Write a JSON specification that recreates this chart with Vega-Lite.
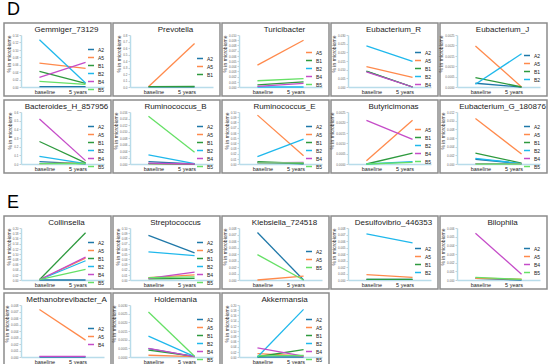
{
"$schema": "https://vega.github.io/schema/vega-lite/v6.json",
"padding": {"left": 3, "top": 1, "right": 0, "bottom": 0},
"background": "white",
"data": {"values": [
{"panel":"Gemmiger_73129","group":"A2","time":"baseline","value":0.001},{"panel":"Gemmiger_73129","group":"A2","time":"5 years","value":0.001},
{"panel":"Gemmiger_73129","group":"A5","time":"baseline","value":0.064},{"panel":"Gemmiger_73129","group":"A5","time":"5 years","value":0.05},
{"panel":"Gemmiger_73129","group":"B1","time":"baseline","value":0.042},{"panel":"Gemmiger_73129","group":"B1","time":"5 years","value":0.01},
{"panel":"Gemmiger_73129","group":"B2","time":"baseline","value":0.127},{"panel":"Gemmiger_73129","group":"B2","time":"5 years","value":0.011},
{"panel":"Gemmiger_73129","group":"B4","time":"baseline","value":0.026},{"panel":"Gemmiger_73129","group":"B4","time":"5 years","value":0.066},
{"panel":"Gemmiger_73129","group":"B5","time":"baseline","value":0.015},{"panel":"Gemmiger_73129","group":"B5","time":"5 years","value":0.007},
{"panel":"Prevotella","group":"A2","time":"baseline","value":0.002},{"panel":"Prevotella","group":"A2","time":"5 years","value":0.002},
{"panel":"Prevotella","group":"A5","time":"baseline","value":0.005},{"panel":"Prevotella","group":"A5","time":"5 years","value":0.67},
{"panel":"Prevotella","group":"B1","time":"baseline","value":0.006},{"panel":"Prevotella","group":"B1","time":"5 years","value":0.008},
{"panel":"Turicibacter","group":"A5","time":"baseline","value":0.0042},{"panel":"Turicibacter","group":"A5","time":"5 years","value":0.009},
{"panel":"Turicibacter","group":"B1","time":"baseline","value":0.0004},{"panel":"Turicibacter","group":"B1","time":"5 years","value":0.001},
{"panel":"Turicibacter","group":"B2","time":"baseline","value":0.0},{"panel":"Turicibacter","group":"B2","time":"5 years","value":0.0},
{"panel":"Turicibacter","group":"B4","time":"baseline","value":0.00013},{"panel":"Turicibacter","group":"B4","time":"5 years","value":0.0007},
{"panel":"Turicibacter","group":"B5","time":"baseline","value":0.0012},{"panel":"Turicibacter","group":"B5","time":"5 years","value":0.0016},
{"panel":"Eubacterium_R","group":"A2","time":"baseline","value":0.009},{"panel":"Eubacterium_R","group":"A2","time":"5 years","value":0.0},
{"panel":"Eubacterium_R","group":"A5","time":"baseline","value":0.0117},{"panel":"Eubacterium_R","group":"A5","time":"5 years","value":0.0056},
{"panel":"Eubacterium_R","group":"B1","time":"baseline","value":0.0091},{"panel":"Eubacterium_R","group":"B1","time":"5 years","value":0.0},
{"panel":"Eubacterium_R","group":"B2","time":"baseline","value":0.0237},{"panel":"Eubacterium_R","group":"B2","time":"5 years","value":0.0148},
{"panel":"Eubacterium_R","group":"B4","time":"baseline","value":0.0087},{"panel":"Eubacterium_R","group":"B4","time":"5 years","value":0.0},
{"panel":"Eubacterium_J","group":"A2","time":"baseline","value":0.00018},{"panel":"Eubacterium_J","group":"A2","time":"5 years","value":0.0},
{"panel":"Eubacterium_J","group":"A5","time":"baseline","value":0.00197},{"panel":"Eubacterium_J","group":"A5","time":"5 years","value":0.0},
{"panel":"Eubacterium_J","group":"B1","time":"baseline","value":0.00045},{"panel":"Eubacterium_J","group":"B1","time":"5 years","value":0.0},
{"panel":"Eubacterium_J","group":"B2","time":"baseline","value":0.00013},{"panel":"Eubacterium_J","group":"B2","time":"5 years","value":0.0016},
{"panel":"Bacteroides_H_857956","group":"A2","time":"baseline","value":0.027},{"panel":"Bacteroides_H_857956","group":"A2","time":"5 years","value":0.002},
{"panel":"Bacteroides_H_857956","group":"A5","time":"baseline","value":0.005},{"panel":"Bacteroides_H_857956","group":"A5","time":"5 years","value":0.012},
{"panel":"Bacteroides_H_857956","group":"B1","time":"baseline","value":0.26},{"panel":"Bacteroides_H_857956","group":"B1","time":"5 years","value":0.012},
{"panel":"Bacteroides_H_857956","group":"B2","time":"baseline","value":0.089},{"panel":"Bacteroides_H_857956","group":"B2","time":"5 years","value":0.005},
{"panel":"Bacteroides_H_857956","group":"B4","time":"baseline","value":0.52},{"panel":"Bacteroides_H_857956","group":"B4","time":"5 years","value":0.039},
{"panel":"Bacteroides_H_857956","group":"B5","time":"baseline","value":0.004},{"panel":"Bacteroides_H_857956","group":"B5","time":"5 years","value":0.006},
{"panel":"Ruminococcus_B","group":"A2","time":"baseline","value":0.0007},{"panel":"Ruminococcus_B","group":"A2","time":"5 years","value":0.0},
{"panel":"Ruminococcus_B","group":"A5","time":"baseline","value":0.0001},{"panel":"Ruminococcus_B","group":"A5","time":"5 years","value":0.0},
{"panel":"Ruminococcus_B","group":"B1","time":"baseline","value":0.0001},{"panel":"Ruminococcus_B","group":"B1","time":"5 years","value":0.0},
{"panel":"Ruminococcus_B","group":"B2","time":"baseline","value":0.0028},{"panel":"Ruminococcus_B","group":"B2","time":"5 years","value":0.0001},
{"panel":"Ruminococcus_B","group":"B4","time":"baseline","value":0.0003},{"panel":"Ruminococcus_B","group":"B4","time":"5 years","value":0.0},
{"panel":"Ruminococcus_B","group":"B5","time":"baseline","value":0.0147},{"panel":"Ruminococcus_B","group":"B5","time":"5 years","value":0.0036},
{"panel":"Ruminococcus_E","group":"A2","time":"baseline","value":0.003},{"panel":"Ruminococcus_E","group":"A2","time":"5 years","value":0.0005},
{"panel":"Ruminococcus_E","group":"A5","time":"baseline","value":0.094},{"panel":"Ruminococcus_E","group":"A5","time":"5 years","value":0.016},
{"panel":"Ruminococcus_E","group":"B1","time":"baseline","value":0.0045},{"panel":"Ruminococcus_E","group":"B1","time":"5 years","value":0.001},
{"panel":"Ruminococcus_E","group":"B2","time":"baseline","value":0.014},{"panel":"Ruminococcus_E","group":"B2","time":"5 years","value":0.048},
{"panel":"Ruminococcus_E","group":"B4","time":"baseline","value":0.002},{"panel":"Ruminococcus_E","group":"B4","time":"5 years","value":0.003},
{"panel":"Ruminococcus_E","group":"B5","time":"baseline","value":0.002},{"panel":"Ruminococcus_E","group":"B5","time":"5 years","value":0.002},
{"panel":"Butyricimonas","group":"A5","time":"baseline","value":0.00016},{"panel":"Butyricimonas","group":"A5","time":"5 years","value":0.0021},
{"panel":"Butyricimonas","group":"B1","time":"baseline","value":0.0},{"panel":"Butyricimonas","group":"B1","time":"5 years","value":0.00052},
{"panel":"Butyricimonas","group":"B2","time":"baseline","value":0.0},{"panel":"Butyricimonas","group":"B2","time":"5 years","value":0.00011},
{"panel":"Butyricimonas","group":"B4","time":"baseline","value":0.0021},{"panel":"Butyricimonas","group":"B4","time":"5 years","value":0.00118},
{"panel":"Butyricimonas","group":"B5","time":"baseline","value":0.0},{"panel":"Butyricimonas","group":"B5","time":"5 years","value":0.00008},
{"panel":"Eubacterium_G_180876","group":"A2","time":"baseline","value":0.0011},{"panel":"Eubacterium_G_180876","group":"A2","time":"5 years","value":0.0001},
{"panel":"Eubacterium_G_180876","group":"A5","time":"baseline","value":0.0105},{"panel":"Eubacterium_G_180876","group":"A5","time":"5 years","value":0.0023},
{"panel":"Eubacterium_G_180876","group":"B1","time":"baseline","value":0.0025},{"panel":"Eubacterium_G_180876","group":"B1","time":"5 years","value":0.0002},
{"panel":"Eubacterium_G_180876","group":"B2","time":"baseline","value":0.0013},{"panel":"Eubacterium_G_180876","group":"B2","time":"5 years","value":0.0001},
{"panel":"Eubacterium_G_180876","group":"B4","time":"baseline","value":0.0001},{"panel":"Eubacterium_G_180876","group":"B4","time":"5 years","value":0.0001},
{"panel":"Eubacterium_G_180876","group":"B5","time":"baseline","value":0.0},{"panel":"Eubacterium_G_180876","group":"B5","time":"5 years","value":0.0},
{"panel":"Collinsella","group":"A2","time":"baseline","value":0.0},{"panel":"Collinsella","group":"A2","time":"5 years","value":0.0},
{"panel":"Collinsella","group":"A5","time":"baseline","value":0.001},{"panel":"Collinsella","group":"A5","time":"5 years","value":0.084},
{"panel":"Collinsella","group":"B1","time":"baseline","value":0.001},{"panel":"Collinsella","group":"B1","time":"5 years","value":0.182},
{"panel":"Collinsella","group":"B2","time":"baseline","value":0.001},{"panel":"Collinsella","group":"B2","time":"5 years","value":0.074},
{"panel":"Collinsella","group":"B4","time":"baseline","value":0.001},{"panel":"Collinsella","group":"B4","time":"5 years","value":0.088},
{"panel":"Collinsella","group":"B5","time":"baseline","value":0.001},{"panel":"Collinsella","group":"B5","time":"5 years","value":0.041},
{"panel":"Streptococcus","group":"A2","time":"baseline","value":0.086},{"panel":"Streptococcus","group":"A2","time":"5 years","value":0.052},
{"panel":"Streptococcus","group":"A5","time":"baseline","value":0.0045},{"panel":"Streptococcus","group":"A5","time":"5 years","value":0.0097},
{"panel":"Streptococcus","group":"B1","time":"baseline","value":0.002},{"panel":"Streptococcus","group":"B1","time":"5 years","value":0.003},
{"panel":"Streptococcus","group":"B2","time":"baseline","value":0.054},{"panel":"Streptococcus","group":"B2","time":"5 years","value":0.047},
{"panel":"Streptococcus","group":"B4","time":"baseline","value":0.003},{"panel":"Streptococcus","group":"B4","time":"5 years","value":0.015},
{"panel":"Streptococcus","group":"B5","time":"baseline","value":0.0045},{"panel":"Streptococcus","group":"B5","time":"5 years","value":0.006},
{"panel":"Klebsiella_724518","group":"A2","time":"baseline","value":0.0073},{"panel":"Klebsiella_724518","group":"A2","time":"5 years","value":0.0},
{"panel":"Klebsiella_724518","group":"A5","time":"baseline","value":0.0},{"panel":"Klebsiella_724518","group":"A5","time":"5 years","value":0.0006},
{"panel":"Klebsiella_724518","group":"B5","time":"baseline","value":0.0039},{"panel":"Klebsiella_724518","group":"B5","time":"5 years","value":0.0},
{"panel":"Desulfovibrio_446353","group":"A2","time":"baseline","value":0.0001},{"panel":"Desulfovibrio_446353","group":"A2","time":"5 years","value":0.0001},
{"panel":"Desulfovibrio_446353","group":"A5","time":"baseline","value":0.00083},{"panel":"Desulfovibrio_446353","group":"A5","time":"5 years","value":0.0004},
{"panel":"Desulfovibrio_446353","group":"B1","time":"baseline","value":0.0001},{"panel":"Desulfovibrio_446353","group":"B1","time":"5 years","value":0.0001},
{"panel":"Desulfovibrio_446353","group":"B2","time":"baseline","value":0.0071},{"panel":"Desulfovibrio_446353","group":"B2","time":"5 years","value":0.0057},
{"panel":"Bilophila","group":"A2","time":"baseline","value":0.0002},{"panel":"Bilophila","group":"A2","time":"5 years","value":0.0},
{"panel":"Bilophila","group":"A5","time":"baseline","value":0.0002},{"panel":"Bilophila","group":"A5","time":"5 years","value":0.0001},
{"panel":"Bilophila","group":"B4","time":"baseline","value":0.0054},{"panel":"Bilophila","group":"B4","time":"5 years","value":0.00066},
{"panel":"Bilophila","group":"B5","time":"baseline","value":0.0003},{"panel":"Bilophila","group":"B5","time":"5 years","value":0.00008},
{"panel":"Methanobrevibacter_A","group":"A2","time":"baseline","value":0.0},{"panel":"Methanobrevibacter_A","group":"A2","time":"5 years","value":0.0},
{"panel":"Methanobrevibacter_A","group":"A5","time":"baseline","value":0.0073},{"panel":"Methanobrevibacter_A","group":"A5","time":"5 years","value":0.0026},
{"panel":"Methanobrevibacter_A","group":"B4","time":"baseline","value":0.0001},{"panel":"Methanobrevibacter_A","group":"B4","time":"5 years","value":0.0001},
{"panel":"Holdemania","group":"A2","time":"baseline","value":0.00048},{"panel":"Holdemania","group":"A2","time":"5 years","value":0.00002},
{"panel":"Holdemania","group":"A5","time":"baseline","value":0.0001},{"panel":"Holdemania","group":"A5","time":"5 years","value":0.00002},
{"panel":"Holdemania","group":"B1","time":"baseline","value":0.0004},{"panel":"Holdemania","group":"B1","time":"5 years","value":0.00003},
{"panel":"Holdemania","group":"B2","time":"baseline","value":0.0012},{"panel":"Holdemania","group":"B2","time":"5 years","value":0.00002},
{"panel":"Holdemania","group":"B4","time":"baseline","value":0.0005},{"panel":"Holdemania","group":"B4","time":"5 years","value":0.00002},
{"panel":"Holdemania","group":"B5","time":"baseline","value":0.0026},{"panel":"Holdemania","group":"B5","time":"5 years","value":0.00004},
{"panel":"Akkermansia","group":"A2","time":"baseline","value":0.0},{"panel":"Akkermansia","group":"A2","time":"5 years","value":0.0},
{"panel":"Akkermansia","group":"A5","time":"baseline","value":0.013},{"panel":"Akkermansia","group":"A5","time":"5 years","value":0.004},
{"panel":"Akkermansia","group":"B1","time":"baseline","value":0.001},{"panel":"Akkermansia","group":"B1","time":"5 years","value":0.028},
{"panel":"Akkermansia","group":"B2","time":"baseline","value":0.0},{"panel":"Akkermansia","group":"B2","time":"5 years","value":0.183},
{"panel":"Akkermansia","group":"B4","time":"baseline","value":0.035},{"panel":"Akkermansia","group":"B4","time":"5 years","value":0.003},
{"panel":"Akkermansia","group":"B5","time":"baseline","value":0.004},{"panel":"Akkermansia","group":"B5","time":"5 years","value":0.006}
]},
"resolve": {"scale": {"x": "independent", "y": "independent", "color": "independent"}, "legend": {"color": "independent"}, "axis": {"x": "independent", "y": "independent"}},
"spacing": 20,
"vconcat": [
{"title": {"text": "D", "anchor": "start", "fontSize": 18, "fontWeight": "normal", "offset": 3, "baseline": "top", "dx": 3, "color": "#000", "align": "left"},
 "resolve": {"scale": {"x": "independent", "y": "independent", "color": "independent"}, "legend": {"color": "independent"}},
 "spacing": 2,
 "vconcat": [
 {"spacing": 2, "bounds": "flush", "resolve": {"scale": {"x": "independent", "y": "independent", "color": "independent"}, "legend": {"color": "independent"}},
  "hconcat": [
  {"title": {"text": "Gemmiger_73129"}, "width": 107, "height": 73, "transform": [{"filter": "datum.panel == 'Gemmiger_73129'"}], "mark": {"type": "line", "strokeWidth": 1.3},
   "encoding": {"x": {"field": "time", "type": "ordinal", "sort": ["baseline", "5 years"], "scale": {"range": [17, 100], "padding": 0.4}, "axis": {"title": null, "labelOffset": {"condition": {"test": "datum.value === 'baseline'", "value": 5}, "value": -8}}},
    "y": {"field": "value", "type": "quantitative", "scale": {"domain": [0, 0.14], "range": [64, 12]}, "axis": {"title": "% in microbiome", "tickCount": 8}},
    "color": {"field": "group", "type": "nominal", "scale": {"domain": ["A2","A5","B1","B2","B4","B5"], "range": ["#1f78a8","#ff8a4c","#2e9a3e","#1fb8ec","#c54cc8","#66e066"]}, "legend": {"title": null, "legendY": 22.5}}}},
  {"title": {"text": "Prevotella"}, "width": 107, "height": 73, "transform": [{"filter": "datum.panel == 'Prevotella'"}], "mark": {"type": "line", "strokeWidth": 1.3},
   "encoding": {"x": {"field": "time", "type": "ordinal", "sort": ["baseline", "5 years"], "scale": {"range": [17, 100], "padding": 0.4}, "axis": {"title": null, "labelOffset": {"condition": {"test": "datum.value === 'baseline'", "value": 5}, "value": -8}}},
    "y": {"field": "value", "type": "quantitative", "scale": {"domain": [0, 0.8], "range": [64, 12]}, "axis": {"title": "% in microbiome", "tickCount": 9}},
    "color": {"field": "group", "type": "nominal", "scale": {"domain": ["A2","A5","B1"], "range": ["#1f78a8","#ff8a4c","#2e9a3e"]}, "legend": {"title": null, "legendY": 31.5}}}},
  {"title": {"text": "Turicibacter"}, "width": 107, "height": 73, "transform": [{"filter": "datum.panel == 'Turicibacter'"}], "mark": {"type": "line", "strokeWidth": 1.3},
   "encoding": {"x": {"field": "time", "type": "ordinal", "sort": ["baseline", "5 years"], "scale": {"range": [17, 100], "padding": 0.4}, "axis": {"title": null, "labelOffset": {"condition": {"test": "datum.value === 'baseline'", "value": 5}, "value": -8}}},
    "y": {"field": "value", "type": "quantitative", "scale": {"domain": [0, 0.01], "range": [64, 12]}, "axis": {"title": "% in microbiome", "tickCount": 11}},
    "color": {"field": "group", "type": "nominal", "scale": {"domain": ["A5","B1","B2","B4","B5"], "range": ["#ff8a4c","#2e9a3e","#1fb8ec","#c54cc8","#66e066"]}, "legend": {"title": null, "legendY": 25.5}}}},
  {"title": {"text": "Eubacterium_R"}, "width": 107, "height": 73, "transform": [{"filter": "datum.panel == 'Eubacterium_R'"}], "mark": {"type": "line", "strokeWidth": 1.3},
   "encoding": {"x": {"field": "time", "type": "ordinal", "sort": ["baseline", "5 years"], "scale": {"range": [17, 100], "padding": 0.4}, "axis": {"title": null, "labelOffset": {"condition": {"test": "datum.value === 'baseline'", "value": 5}, "value": -8}}},
    "y": {"field": "value", "type": "quantitative", "scale": {"domain": [0, 0.03], "range": [64, 12]}, "axis": {"title": "% in microbiome", "tickCount": 7}},
    "color": {"field": "group", "type": "nominal", "scale": {"domain": ["A2","A5","B1","B2","B4"], "range": ["#1f78a8","#ff8a4c","#2e9a3e","#1fb8ec","#c54cc8"]}, "legend": {"title": null, "legendY": 25.5}}}},
  {"title": {"text": "Eubacterium_J"}, "width": 107, "height": 73, "transform": [{"filter": "datum.panel == 'Eubacterium_J'"}], "mark": {"type": "line", "strokeWidth": 1.3},
   "encoding": {"x": {"field": "time", "type": "ordinal", "sort": ["baseline", "5 years"], "scale": {"range": [17, 100], "padding": 0.4}, "axis": {"title": null, "labelOffset": {"condition": {"test": "datum.value === 'baseline'", "value": 5}, "value": -8}}},
    "y": {"field": "value", "type": "quantitative", "scale": {"domain": [0, 0.0025], "range": [64, 12]}, "axis": {"title": "% in microbiome", "tickCount": 6}},
    "color": {"field": "group", "type": "nominal", "scale": {"domain": ["A2","A5","B1","B2"], "range": ["#1f78a8","#ff8a4c","#2e9a3e","#1fb8ec"]}, "legend": {"title": null, "legendY": 28.5}}}}
  ]},
 {"spacing": 2, "bounds": "flush", "resolve": {"scale": {"x": "independent", "y": "independent", "color": "independent"}, "legend": {"color": "independent"}},
  "hconcat": [
  {"title": {"text": "Bacteroides_H_857956"}, "width": 107, "height": 73, "transform": [{"filter": "datum.panel == 'Bacteroides_H_857956'"}], "mark": {"type": "line", "strokeWidth": 1.3},
   "encoding": {"x": {"field": "time", "type": "ordinal", "sort": ["baseline", "5 years"], "scale": {"range": [17, 100], "padding": 0.4}, "axis": {"title": null, "labelOffset": {"condition": {"test": "datum.value === 'baseline'", "value": 5}, "value": -8}}},
    "y": {"field": "value", "type": "quantitative", "scale": {"domain": [0, 0.6], "range": [64, 12]}, "axis": {"title": "% in microbiome", "tickCount": 7}},
    "color": {"field": "group", "type": "nominal", "scale": {"domain": ["A2","A5","B1","B2","B4","B5"], "range": ["#1f78a8","#ff8a4c","#2e9a3e","#1fb8ec","#c54cc8","#66e066"]}, "legend": {"title": null, "legendY": 22.5}}}},
  {"title": {"text": "Ruminococcus_B"}, "width": 107, "height": 73, "transform": [{"filter": "datum.panel == 'Ruminococcus_B'"}], "mark": {"type": "line", "strokeWidth": 1.3},
   "encoding": {"x": {"field": "time", "type": "ordinal", "sort": ["baseline", "5 years"], "scale": {"range": [17, 100], "padding": 0.4}, "axis": {"title": null, "labelOffset": {"condition": {"test": "datum.value === 'baseline'", "value": 5}, "value": -8}}},
    "y": {"field": "value", "type": "quantitative", "scale": {"domain": [0, 0.016], "range": [64, 12]}, "axis": {"title": "% in microbiome", "tickCount": 9}},
    "color": {"field": "group", "type": "nominal", "scale": {"domain": ["A2","A5","B1","B2","B4","B5"], "range": ["#1f78a8","#ff8a4c","#2e9a3e","#1fb8ec","#c54cc8","#66e066"]}, "legend": {"title": null, "legendY": 22.5}}}},
  {"title": {"text": "Ruminococcus_E"}, "width": 107, "height": 73, "transform": [{"filter": "datum.panel == 'Ruminococcus_E'"}], "mark": {"type": "line", "strokeWidth": 1.3},
   "encoding": {"x": {"field": "time", "type": "ordinal", "sort": ["baseline", "5 years"], "scale": {"range": [17, 100], "padding": 0.4}, "axis": {"title": null, "labelOffset": {"condition": {"test": "datum.value === 'baseline'", "value": 5}, "value": -8}}},
    "y": {"field": "value", "type": "quantitative", "scale": {"domain": [0, 0.1], "range": [64, 12]}, "axis": {"title": "% in microbiome", "tickCount": 11}},
    "color": {"field": "group", "type": "nominal", "scale": {"domain": ["A2","A5","B1","B2","B4","B5"], "range": ["#1f78a8","#ff8a4c","#2e9a3e","#1fb8ec","#c54cc8","#66e066"]}, "legend": {"title": null, "legendY": 22.5}}}},
  {"title": {"text": "Butyricimonas"}, "width": 107, "height": 73, "transform": [{"filter": "datum.panel == 'Butyricimonas'"}], "mark": {"type": "line", "strokeWidth": 1.3},
   "encoding": {"x": {"field": "time", "type": "ordinal", "sort": ["baseline", "5 years"], "scale": {"range": [17, 100], "padding": 0.4}, "axis": {"title": null, "labelOffset": {"condition": {"test": "datum.value === 'baseline'", "value": 5}, "value": -8}}},
    "y": {"field": "value", "type": "quantitative", "scale": {"domain": [0, 0.0025], "range": [64, 12]}, "axis": {"title": "% in microbiome", "tickCount": 6}},
    "color": {"field": "group", "type": "nominal", "scale": {"domain": ["A5","B1","B2","B4","B5"], "range": ["#ff8a4c","#2e9a3e","#1fb8ec","#c54cc8","#66e066"]}, "legend": {"title": null, "legendY": 25.5}}}},
  {"title": {"text": "Eubacterium_G_180876"}, "width": 107, "height": 73, "transform": [{"filter": "datum.panel == 'Eubacterium_G_180876'"}], "mark": {"type": "line", "strokeWidth": 1.3},
   "encoding": {"x": {"field": "time", "type": "ordinal", "sort": ["baseline", "5 years"], "scale": {"range": [17, 100], "padding": 0.4}, "axis": {"title": null, "labelOffset": {"condition": {"test": "datum.value === 'baseline'", "value": 5}, "value": -8}}},
    "y": {"field": "value", "type": "quantitative", "scale": {"domain": [0, 0.012], "range": [64, 12]}, "axis": {"title": "% in microbiome", "tickCount": 7}},
    "color": {"field": "group", "type": "nominal", "scale": {"domain": ["A2","A5","B1","B2","B4","B5"], "range": ["#1f78a8","#ff8a4c","#2e9a3e","#1fb8ec","#c54cc8","#66e066"]}, "legend": {"title": null, "legendY": 22.5}}}}
  ]}
 ]},
{"title": {"text": "E", "anchor": "start", "fontSize": 18, "fontWeight": "normal", "offset": 3, "baseline": "top", "dx": 3, "color": "#000", "align": "left"},
 "resolve": {"scale": {"x": "independent", "y": "independent", "color": "independent"}, "legend": {"color": "independent"}},
 "spacing": 2,
 "vconcat": [
 {"spacing": 2, "bounds": "flush", "resolve": {"scale": {"x": "independent", "y": "independent", "color": "independent"}, "legend": {"color": "independent"}},
  "hconcat": [
  {"title": {"text": "Collinsella"}, "width": 107, "height": 73, "transform": [{"filter": "datum.panel == 'Collinsella'"}], "mark": {"type": "line", "strokeWidth": 1.3},
   "encoding": {"x": {"field": "time", "type": "ordinal", "sort": ["baseline", "5 years"], "scale": {"range": [17, 100], "padding": 0.4}, "axis": {"title": null, "labelOffset": {"condition": {"test": "datum.value === 'baseline'", "value": 5}, "value": -8}}},
    "y": {"field": "value", "type": "quantitative", "scale": {"domain": [0, 0.2], "range": [64, 12]}, "axis": {"title": "% in microbiome", "tickCount": 11}},
    "color": {"field": "group", "type": "nominal", "scale": {"domain": ["A2","A5","B1","B2","B4","B5"], "range": ["#1f78a8","#ff8a4c","#2e9a3e","#1fb8ec","#c54cc8","#66e066"]}, "legend": {"title": null, "legendY": 22.5}}}},
  {"title": {"text": "Streptococcus"}, "width": 107, "height": 73, "transform": [{"filter": "datum.panel == 'Streptococcus'"}], "mark": {"type": "line", "strokeWidth": 1.3},
   "encoding": {"x": {"field": "time", "type": "ordinal", "sort": ["baseline", "5 years"], "scale": {"range": [17, 100], "padding": 0.4}, "axis": {"title": null, "labelOffset": {"condition": {"test": "datum.value === 'baseline'", "value": 5}, "value": -8}}},
    "y": {"field": "value", "type": "quantitative", "scale": {"domain": [0, 0.1], "range": [64, 12]}, "axis": {"title": "% in microbiome", "tickCount": 11}},
    "color": {"field": "group", "type": "nominal", "scale": {"domain": ["A2","A5","B1","B2","B4","B5"], "range": ["#1f78a8","#ff8a4c","#2e9a3e","#1fb8ec","#c54cc8","#66e066"]}, "legend": {"title": null, "legendY": 22.5}}}},
  {"title": {"text": "Klebsiella_724518"}, "width": 107, "height": 73, "transform": [{"filter": "datum.panel == 'Klebsiella_724518'"}], "mark": {"type": "line", "strokeWidth": 1.3},
   "encoding": {"x": {"field": "time", "type": "ordinal", "sort": ["baseline", "5 years"], "scale": {"range": [17, 100], "padding": 0.4}, "axis": {"title": null, "labelOffset": {"condition": {"test": "datum.value === 'baseline'", "value": 5}, "value": -8}}},
    "y": {"field": "value", "type": "quantitative", "scale": {"domain": [0, 0.008], "range": [64, 12]}, "axis": {"title": "% in microbiome", "tickCount": 9}},
    "color": {"field": "group", "type": "nominal", "scale": {"domain": ["A2","A5","B5"], "range": ["#1f78a8","#ff8a4c","#66e066"]}, "legend": {"title": null, "legendY": 31.5}}}},
  {"title": {"text": "Desulfovibrio_446353"}, "width": 107, "height": 73, "transform": [{"filter": "datum.panel == 'Desulfovibrio_446353'"}], "mark": {"type": "line", "strokeWidth": 1.3},
   "encoding": {"x": {"field": "time", "type": "ordinal", "sort": ["baseline", "5 years"], "scale": {"range": [17, 100], "padding": 0.4}, "axis": {"title": null, "labelOffset": {"condition": {"test": "datum.value === 'baseline'", "value": 5}, "value": -8}}},
    "y": {"field": "value", "type": "quantitative", "scale": {"domain": [0, 0.008], "range": [64, 12]}, "axis": {"title": "% in microbiome", "tickCount": 9}},
    "color": {"field": "group", "type": "nominal", "scale": {"domain": ["A2","A5","B1","B2"], "range": ["#1f78a8","#ff8a4c","#2e9a3e","#1fb8ec"]}, "legend": {"title": null, "legendY": 28.5}}}},
  {"title": {"text": "Bilophila"}, "width": 107, "height": 73, "transform": [{"filter": "datum.panel == 'Bilophila'"}], "mark": {"type": "line", "strokeWidth": 1.3},
   "encoding": {"x": {"field": "time", "type": "ordinal", "sort": ["baseline", "5 years"], "scale": {"range": [17, 100], "padding": 0.4}, "axis": {"title": null, "labelOffset": {"condition": {"test": "datum.value === 'baseline'", "value": 5}, "value": -8}}},
    "y": {"field": "value", "type": "quantitative", "scale": {"domain": [0, 0.006], "range": [64, 12]}, "axis": {"title": "% in microbiome", "tickCount": 7}},
    "color": {"field": "group", "type": "nominal", "scale": {"domain": ["A2","A5","B4","B5"], "range": ["#1f78a8","#ff8a4c","#c54cc8","#66e066"]}, "legend": {"title": null, "legendY": 28.5}}}}
  ]},
 {"spacing": 2, "bounds": "flush", "resolve": {"scale": {"x": "independent", "y": "independent", "color": "independent"}, "legend": {"color": "independent"}},
  "hconcat": [
  {"title": {"text": "Methanobrevibacter_A"}, "width": 107, "height": 73, "transform": [{"filter": "datum.panel == 'Methanobrevibacter_A'"}], "mark": {"type": "line", "strokeWidth": 1.3},
   "encoding": {"x": {"field": "time", "type": "ordinal", "sort": ["baseline", "5 years"], "scale": {"range": [17, 100], "padding": 0.4}, "axis": {"title": null, "labelOffset": {"condition": {"test": "datum.value === 'baseline'", "value": 5}, "value": -8}}},
    "y": {"field": "value", "type": "quantitative", "scale": {"domain": [0, 0.008], "range": [64, 12]}, "axis": {"title": "% in microbiome", "tickCount": 9}},
    "color": {"field": "group", "type": "nominal", "scale": {"domain": ["A2","A5","B4"], "range": ["#1f78a8","#ff8a4c","#c54cc8"]}, "legend": {"title": null, "legendY": 31.5}}}},
  {"title": {"text": "Holdemania"}, "width": 107, "height": 73, "transform": [{"filter": "datum.panel == 'Holdemania'"}], "mark": {"type": "line", "strokeWidth": 1.3},
   "encoding": {"x": {"field": "time", "type": "ordinal", "sort": ["baseline", "5 years"], "scale": {"range": [17, 100], "padding": 0.4}, "axis": {"title": null, "labelOffset": {"condition": {"test": "datum.value === 'baseline'", "value": 5}, "value": -8}}},
    "y": {"field": "value", "type": "quantitative", "scale": {"domain": [0, 0.003], "range": [64, 12]}, "axis": {"title": "% in microbiome", "tickCount": 7}},
    "color": {"field": "group", "type": "nominal", "scale": {"domain": ["A2","A5","B1","B2","B4","B5"], "range": ["#1f78a8","#ff8a4c","#2e9a3e","#1fb8ec","#c54cc8","#66e066"]}, "legend": {"title": null, "legendY": 22.5}}}},
  {"title": {"text": "Akkermansia"}, "width": 107, "height": 73, "transform": [{"filter": "datum.panel == 'Akkermansia'"}], "mark": {"type": "line", "strokeWidth": 1.3},
   "encoding": {"x": {"field": "time", "type": "ordinal", "sort": ["baseline", "5 years"], "scale": {"range": [17, 100], "padding": 0.4}, "axis": {"title": null, "labelOffset": {"condition": {"test": "datum.value === 'baseline'", "value": 5}, "value": -8}}},
    "y": {"field": "value", "type": "quantitative", "scale": {"domain": [0, 0.2], "range": [64, 12]}, "axis": {"title": "% in microbiome", "tickCount": 11}},
    "color": {"field": "group", "type": "nominal", "scale": {"domain": ["A2","A5","B1","B2","B4","B5"], "range": ["#1f78a8","#ff8a4c","#2e9a3e","#1fb8ec","#c54cc8","#66e066"]}, "legend": {"title": null, "legendY": 22.5}}}}
  ]}
 ]}
],
"config": {
 "font": "Liberation Sans",
 "view": {"stroke": "#8c8c8c", "strokeWidth": 1.5},
 "axisY": {"offset": -17, "domainColor": "#b8dcea", "domainWidth": 1.5, "tickColor": "#cccccc", "tickSize": 2, "labelFontSize": 3, "labelColor": "#666666", "labelPadding": 1, "titleFontSize": 5, "titleFontWeight": "normal", "titleColor": "#333333", "titlePadding": 1, "titleAnchor": "end", "grid": false, "labelOverlap": false},
 "axisX": {"offset": -9, "domainColor": "#b8dcea", "domainWidth": 1.5, "ticks": false, "labelFontSize": 5.5, "labelColor": "#222222", "labelPadding": 2, "labelAngle": 0, "grid": false},
 "title": {"fontSize": 8, "fontWeight": "normal", "color": "#222222", "offset": -11, "baseline": "bottom", "anchor": "middle", "frame": "group", "align": "center", "dx": 9},
 "legend": {"orient": "none", "legendX": 83, "symbolType": "stroke", "symbolSize": 36, "symbolStrokeWidth": 1.5, "labelFontSize": 5, "labelOffset": 3, "rowPadding": 1, "labelColor": "#222222"}
}
}
